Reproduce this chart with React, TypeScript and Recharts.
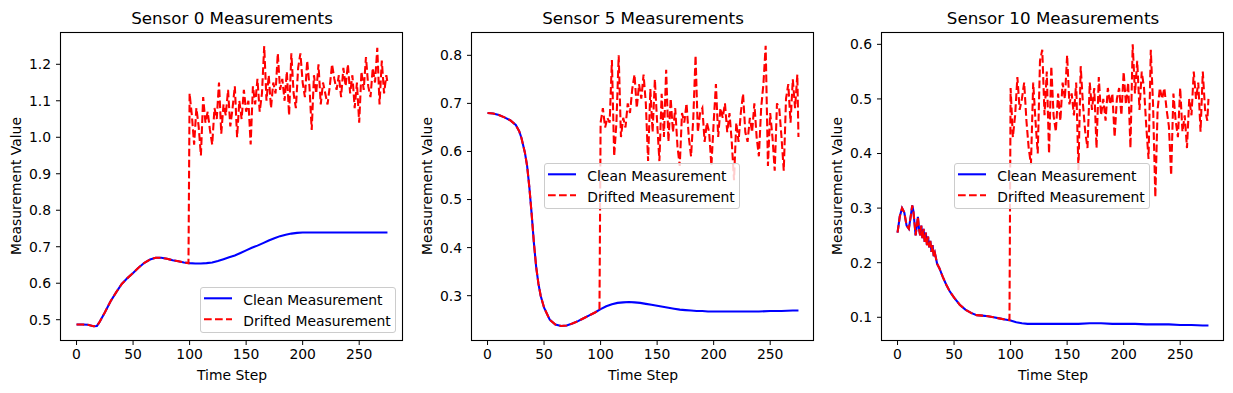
import React from "react";
import { LineChart, Line, XAxis, YAxis, Legend } from "recharts";

const FONT = "'DejaVu Sans', 'Noto Sans', sans-serif";

const xTicks = [0, 50, 100, 150, 200, 250];

const driftSteps = [
  100, 102, 104, 106, 108, 110, 112, 114, 116, 118,
  120, 122, 124, 126, 128, 130, 132, 134, 136, 138,
  140, 142, 144, 146, 148, 150, 152, 154, 156, 158,
  160, 162, 164, 166, 168, 170, 172, 174, 176, 178,
  180, 182, 184, 186, 188, 190, 192, 194, 196, 198,
  200, 202, 204, 206, 208, 210, 212, 214, 216, 218,
  220, 222, 224, 226, 228, 230, 232, 234, 236, 238,
  240, 242, 244, 246, 248, 250, 252, 254, 256, 258,
  260, 262, 264, 266, 268, 270, 272, 274, 275,
];

// Sensor 0
const s0CleanSteps = [
  0, 5, 10, 15, 18, 20, 25, 30, 35, 40, 45, 50, 55, 60, 65, 70, 75, 80, 85, 90, 95,
  100, 105, 110, 115, 120, 125, 130, 135, 140, 145, 150, 155, 160, 165, 170, 175, 180,
  185, 190, 195, 200, 210, 220, 230, 240, 250, 260, 270, 275,
];
const s0Clean = [
  0.487, 0.487, 0.486, 0.482, 0.483, 0.492, 0.52, 0.55, 0.575, 0.598, 0.614, 0.628, 0.643,
  0.656, 0.665, 0.67, 0.67, 0.667, 0.663, 0.66, 0.657,
  0.655, 0.654, 0.654, 0.655, 0.657, 0.661, 0.666, 0.671, 0.676, 0.683, 0.69, 0.697, 0.703,
  0.71, 0.717, 0.723, 0.729, 0.733, 0.736, 0.738, 0.739, 0.739, 0.739, 0.739, 0.739, 0.739,
  0.739, 0.739, 0.739,
];
const s0At99 = 0.655;
const s0Drift = [
  1.12, 1.06, 0.98, 1.08, 1.03, 0.95, 1.11, 1.04, 1.07, 1.02,
  0.98, 1.08, 1.05, 1.15, 1.01, 1.09, 1.06, 1.13, 1.03, 1.08,
  1.14, 1.0, 1.1, 1.05, 1.13, 1.07, 1.1, 0.98, 1.14, 1.09,
  1.16, 1.07, 1.12, 1.25, 1.1, 1.17, 1.08, 1.15, 1.12, 1.23,
  1.13, 1.16, 1.1, 1.18, 1.06, 1.23, 1.12, 1.08, 1.19, 1.23,
  1.15, 1.11, 1.21, 1.14, 1.02, 1.17, 1.12, 1.2, 1.09, 1.15,
  1.12, 1.09, 1.14, 1.2, 1.16, 1.13, 1.17, 1.11, 1.19, 1.14,
  1.2, 1.12, 1.17, 1.08, 1.15, 1.04, 1.18, 1.13, 1.22, 1.14,
  1.11, 1.19, 1.15, 1.245, 1.09, 1.21, 1.12, 1.17, 1.15,
];

// Sensor 5
const s5CleanSteps = [
  0, 5, 10, 15, 20, 25, 28, 30, 33, 35, 37, 39, 41, 43, 45, 47, 50, 55, 60, 65, 70, 75, 80,
  85, 90, 95, 100, 105, 110, 115, 120, 125, 130, 135, 140, 145, 150, 155, 160, 165, 170,
  175, 180, 185, 190, 195, 200, 210, 220, 230, 240, 250, 260, 270, 275,
];
const s5Clean = [
  0.68, 0.679, 0.676, 0.671, 0.665, 0.655, 0.642, 0.628, 0.598, 0.57, 0.525, 0.47, 0.41,
  0.36, 0.325, 0.3, 0.275, 0.25, 0.24, 0.237, 0.238, 0.242, 0.247,
  0.253, 0.259, 0.265, 0.272, 0.278, 0.282, 0.285, 0.286, 0.287, 0.286, 0.285, 0.283,
  0.281, 0.279, 0.277, 0.275, 0.273, 0.271, 0.27, 0.269, 0.268, 0.268, 0.267, 0.267,
  0.267, 0.267, 0.267, 0.267, 0.268, 0.268, 0.269, 0.269,
];
const s5At99 = 0.271;
const s5Drift = [
  0.66, 0.69, 0.65, 0.67, 0.66, 0.79, 0.59, 0.66, 0.8, 0.63,
  0.67, 0.65, 0.7, 0.68, 0.73, 0.76, 0.69, 0.74, 0.71, 0.76,
  0.7, 0.58, 0.73, 0.64, 0.75, 0.66, 0.58, 0.72, 0.63, 0.77,
  0.62, 0.71, 0.64, 0.69, 0.61, 0.57, 0.68, 0.66, 0.7, 0.63,
  0.59, 0.67, 0.8, 0.64, 0.68, 0.69, 0.62, 0.66, 0.64, 0.57,
  0.66, 0.74, 0.63, 0.69, 0.67, 0.7, 0.64, 0.68, 0.62, 0.54,
  0.66, 0.62, 0.68, 0.72, 0.64, 0.62, 0.67, 0.64, 0.7, 0.63,
  0.59, 0.69, 0.74, 0.82, 0.57, 0.68, 0.63, 0.56, 0.7, 0.69,
  0.63, 0.56, 0.71, 0.74, 0.66, 0.75, 0.69, 0.76, 0.63,
];

// Sensor 10
const s10CleanSteps = [
  0, 2, 4, 6, 8, 10, 12, 13, 14, 16, 18, 19, 20, 21, 22, 23, 24, 25, 26, 27, 28, 29, 30,
  31, 32, 33, 35, 37, 40, 43, 46, 50, 55, 60, 65, 70, 75, 80, 85, 90, 95, 100, 105, 110,
  115, 120, 130, 140, 150, 160, 170, 180, 190, 200, 210, 220, 230, 240, 250, 260, 270, 275,
];
const s10Clean = [
  0.255, 0.285, 0.3, 0.292, 0.268, 0.262, 0.29, 0.305, 0.295, 0.25, 0.284, 0.262, 0.25,
  0.268, 0.245, 0.262, 0.238, 0.255, 0.232, 0.248, 0.228, 0.24, 0.22,
  0.232, 0.212, 0.218, 0.198, 0.19, 0.174, 0.16, 0.148, 0.136, 0.123, 0.114, 0.108, 0.104,
  0.103, 0.102, 0.1, 0.098, 0.096, 0.094, 0.091, 0.089,
  0.088, 0.088, 0.088, 0.088, 0.088, 0.088, 0.089, 0.089, 0.088, 0.088, 0.088, 0.087,
  0.087, 0.087, 0.086, 0.086, 0.085, 0.085,
];
const s10At99 = 0.095;
const s10Drift = [
  0.52, 0.43, 0.47, 0.54, 0.48, 0.5, 0.53, 0.46, 0.41, 0.38,
  0.53, 0.46, 0.4, 0.57, 0.59, 0.47, 0.55, 0.4, 0.56, 0.47,
  0.44, 0.51, 0.46, 0.53, 0.5, 0.58, 0.49, 0.51, 0.47, 0.53,
  0.37, 0.56, 0.49, 0.44, 0.41, 0.53, 0.48, 0.52, 0.41, 0.54,
  0.47, 0.5, 0.46, 0.52, 0.49, 0.51, 0.43, 0.5, 0.52, 0.47,
  0.55, 0.49, 0.53, 0.41, 0.6, 0.51, 0.57, 0.48, 0.55, 0.52,
  0.45, 0.39, 0.59, 0.49, 0.32, 0.48, 0.52, 0.5, 0.52, 0.48,
  0.45, 0.36, 0.51, 0.46, 0.43, 0.52, 0.44, 0.47, 0.41, 0.5,
  0.47, 0.55, 0.5, 0.53, 0.44, 0.55, 0.48, 0.46, 0.5,
];

const s0Ticks = [0.5, 0.6, 0.7, 0.8, 0.9, 1.0, 1.1, 1.2];
const s5Ticks = [0.3, 0.4, 0.5, 0.6, 0.7, 0.8];
const s10Ticks = [0.1, 0.2, 0.3, 0.4, 0.5, 0.6];

type Pt = { step: number; value: number };

const toPts = (steps: number[], vals: number[]): Pt[] =>
  steps.map((step, i) => ({ step, value: vals[i] }));

function drifted(steps: number[], vals: number[], at99: number, noise: number[]): Pt[] {
  const before = toPts(steps, vals).filter((p) => p.step < 99);
  return [...before, { step: 99, value: at99 }, ...toPts(driftSteps, noise)];
}

const panels = [
  {
    title: "Sensor 0 Measurements",
    left: 0,
    clean: toPts(s0CleanSteps, s0Clean),
    drift: drifted(s0CleanSteps, s0Clean, s0At99, s0Drift),
    yDomain: [0.4444, 1.2885],
    yTicks: s0Ticks,
    legend: { left: 200, top: 287 },
  },
  {
    title: "Sensor 5 Measurements",
    left: 411,
    clean: toPts(s5CleanSteps, s5Clean),
    drift: drifted(s5CleanSteps, s5Clean, s5At99, s5Drift),
    yDomain: [0.2078, 0.8485],
    yTicks: s5Ticks,
    legend: { left: 133, top: 163 },
  },
  {
    title: "Sensor 10 Measurements",
    left: 821,
    clean: toPts(s10CleanSteps, s10Clean),
    drift: drifted(s10CleanSteps, s10Clean, s10At99, s10Drift),
    yDomain: [0.0584, 0.6226],
    yTicks: s10Ticks,
    legend: { left: 133, top: 163 },
  },
];

const W = 411;
const H = 393;
const PL = 61;
const PT = 32;
const PW = 342;
const PH = 308;
const DASH = "7.7 3.3";

function LegendBox() {
  return (
    <div
      style={{
        width: 196,
        height: 46,
        boxSizing: "border-box",
        border: "1px solid #cccccc",
        borderRadius: 3,
        background: "rgba(255,255,255,0.8)",
        position: "relative",
      }}
    >
      <svg width={194} height={44} style={{ position: "absolute", left: 0, top: 0 }}>
        <line x1={3} x2={31} y1={10.3} y2={10.3} stroke="#0000ff" strokeWidth={2.08} />
        <line x1={3} x2={31} y1={31.3} y2={31.3} stroke="#ff0000" strokeWidth={2.08} strokeDasharray={DASH} />
        <text x={42.3} y={17} fontFamily={FONT} fontSize={13.9} fill="#000">Clean Measurement</text>
        <text x={42.3} y={38} fontFamily={FONT} fontSize={13.9} fill="#000">Drifted Measurement</text>
      </svg>
    </div>
  );
}

function Panel(p: (typeof panels)[number]) {
  return (
    <div style={{ position: "absolute", left: p.left, top: 0, width: W, height: H }}>
      <LineChart width={W} height={H} margin={{ top: PT, right: W - PL - PW, bottom: 23, left: 11 }}>
        <XAxis
          dataKey="step"
          type="number"
          domain={[-13.75, 288.75]}
          ticks={xTicks}
          allowDataOverflow
          height={30}
          axisLine={false}
          tickLine={{ stroke: "#000" }}
          tickSize={5}
          tickMargin={4}
          tick={{ fill: "#000", fontSize: 13.9, fontFamily: FONT }}
        />
        <YAxis
          dataKey="value"
          type="number"
          domain={p.yDomain}
          ticks={p.yTicks}
          allowDataOverflow
          width={50}
          axisLine={false}
          tickLine={{ stroke: "#000" }}
          tickSize={5}
          tickMargin={5}
          tickFormatter={(v: number) => v.toFixed(1)}
          tick={{ fill: "#000", fontSize: 13.9, fontFamily: FONT }}
        />
        <Line
          data={p.clean}
          dataKey="value"
          type="linear"
          stroke="#0000ff"
          strokeWidth={2.08}
          dot={false}
          isAnimationActive={false}
        />
        <Line
          data={p.drift}
          dataKey="value"
          type="linear"
          stroke="#ff0000"
          strokeWidth={2.08}
          strokeDasharray={DASH}
          dot={false}
          isAnimationActive={false}
        />
        <Legend
          layout="vertical"
          verticalAlign="middle"
          align="center"
          content={() => <LegendBox />}
          wrapperStyle={{ left: p.legend.left, top: p.legend.top, width: 196, height: 46 }}
        />
      </LineChart>
      <svg
        width={W}
        height={H}
        style={{ position: "absolute", left: 0, top: 0, pointerEvents: "none" }}
      >
        <rect x={PL - 0.5} y={PT + 0.5} width={PW} height={PH} fill="none" stroke="#000" strokeWidth={1.1} />
        <text x={PL + PW / 2} y={24} textAnchor="middle" fontFamily={FONT} fontSize={16.7} fill="#000">
          {p.title}
        </text>
        <text x={PL + PW / 2} y={380} textAnchor="middle" fontFamily={FONT} fontSize={13.9} fill="#000">
          Time Step
        </text>
        <text
          transform={`translate(21, ${PT + PH / 2}) rotate(-90)`}
          textAnchor="middle"
          fontFamily={FONT}
          fontSize={13.9}
          fill="#000"
        >
          Measurement Value
        </text>
      </svg>
    </div>
  );
}

export default function App() {
  return (
    <div style={{ position: "absolute", left: 0, top: 0, width: 1233, height: 393, background: "#fff" }}>
      {panels.map((p) => (
        <Panel key={p.title} {...p} />
      ))}
    </div>
  );
}
